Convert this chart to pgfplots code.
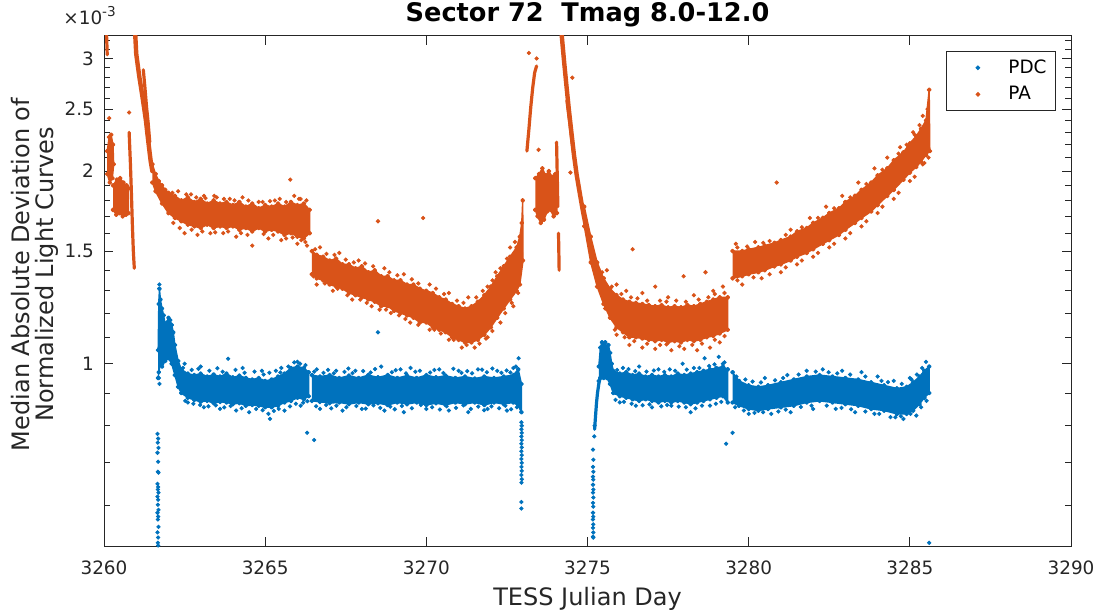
\documentclass[border=0pt]{standalone}
\usepackage{fontspec}
\setmainfont{DejaVu Sans}
\usepackage{pgfplots}
\pgfplotsset{compat=1.18}
\definecolor{pdc}{HTML}{0072BD}
\definecolor{pa}{HTML}{D95319}
\definecolor{axc}{HTML}{262626}
\pgfplotsset{
 band/.style={draw=#1, fill=#1, line width=0.7pt, line join=round, mark=*, mark size=0.85pt, mark options={solid, draw=#1, fill=#1}, forget plot},
 streak/.style={draw=#1, line width=1.6pt, line cap=round, line join=round, forget plot},
 dots/.style={draw=#1, only marks, mark=*, mark size=0.85pt, mark options={solid, draw=#1, fill=#1}, forget plot},
}
\begin{document}
\begin{tikzpicture}
\begin{axis}[
 name=ax, scale only axis, width=483.5pt, height=255pt,
 xmin=3260, xmax=3290, ymin=0.519, ymax=3.253, ymode=log,
 xtick={3260,3265,...,3290},
 ytick={1,1.5,2,2.5,3}, yticklabels={1,1.5,2,2.5,3},
 minor ytick={0.6,0.7,0.8,0.9,1.1,1.2,1.3,1.4,1.6,1.7,1.8,1.9,2.1,2.2,2.3,2.4,2.6,2.7,2.8,2.9,3.1,3.2},
 tick align=inside, major tick length=4.5pt, minor tick length=3pt,
 axis line style={draw=axc, line width=0.5pt},
 every tick/.style={draw=axc, line width=0.5pt},
 tick label style={font=\fontsize{9.2}{11}\selectfont, text=axc},
 xticklabel style={yshift=-4pt},
 yticklabel style={xshift=-1.5pt},
 /pgf/number format/assume math mode=true,
 /pgf/number format/set thousands separator={},
 legend style={at={(1,1)}, anchor=north east, xshift=-7.5pt, yshift=-7.5pt, draw=axc, line width=0.5pt, fill=white, inner xsep=2pt, inner ysep=1.5pt, font=\fontsize{9.2}{11}\selectfont, text=black, cells={anchor=west}, nodes={inner sep=2.5pt}, row sep=0pt},
 legend image code/.code={\path (0pt,-3pt) (26pt,3pt); \draw[#1] plot coordinates {(13.5pt,0pt)};},
]
% ---------------- PDC (blue) ----------------
\addplot[band=pdc] coordinates {
(3261.68,1.05)(3261.70,1.24)(3261.72,1.31)(3261.75,1.26)(3261.80,1.22)(3261.85,1.19)(3261.90,1.15)(3261.95,1.16)(3262.00,1.18)(3262.05,1.17)(3262.10,1.15)(3262.15,1.12)(3262.20,1.07)(3262.30,1.01)(3262.40,0.98)(3262.6,0.965)(3262.8,0.96)(3263.0,0.965)(3263.2,0.955)(3263.4,0.962)(3263.6,0.955)(3263.8,0.965)(3264.0,0.952)(3264.2,0.958)(3264.4,0.95)(3264.6,0.945)(3264.8,0.95)(3265.0,0.94)(3265.2,0.945)(3265.4,0.955)(3265.6,0.965)(3265.8,0.985)(3266.0,0.99)(3266.2,0.985)(3266.35,0.97)
(3266.35,0.89)(3266.2,0.88)(3266.0,0.885)(3265.8,0.875)(3265.6,0.87)(3265.4,0.86)(3265.2,0.855)(3265.0,0.855)(3264.8,0.86)(3264.6,0.862)(3264.4,0.86)(3264.2,0.868)(3264.0,0.865)(3263.8,0.87)(3263.6,0.872)(3263.4,0.868)(3263.2,0.875)(3263.0,0.872)(3262.8,0.878)(3262.6,0.885)(3262.4,0.90)(3262.3,0.92)(3262.2,0.96)(3262.1,1.0)(3262.0,1.02)(3261.9,1.01)(3261.8,0.99)(3261.75,1.0)(3261.70,0.97)(3261.68,0.95)};
\addplot[band=pdc] coordinates {
(3266.45,0.96)(3266.7,0.955)(3267.0,0.96)(3267.3,0.95)(3267.6,0.958)(3267.9,0.95)(3268.2,0.96)(3268.5,0.952)(3268.8,0.96)(3269.1,0.95)(3269.4,0.958)(3269.7,0.95)(3270.0,0.96)(3270.3,0.952)(3270.6,0.958)(3270.9,0.95)(3271.2,0.955)(3271.5,0.948)(3271.8,0.955)(3272.1,0.95)(3272.4,0.955)(3272.7,0.96)(3272.85,0.98)(3272.95,0.93)
(3272.95,0.84)(3272.85,0.86)(3272.7,0.87)(3272.4,0.865)(3272.1,0.87)(3271.8,0.862)(3271.5,0.87)(3271.2,0.865)(3270.9,0.87)(3270.6,0.862)(3270.3,0.868)(3270.0,0.862)(3269.7,0.87)(3269.4,0.865)(3269.1,0.87)(3268.8,0.862)(3268.5,0.868)(3268.2,0.865)(3267.9,0.87)(3267.6,0.865)(3267.3,0.87)(3267.0,0.868)(3266.7,0.872)(3266.45,0.875)};
\addplot[band=pdc] coordinates {
(3275.35,0.99)(3275.40,1.06)(3275.45,1.08)(3275.5,1.07)(3275.55,1.08)(3275.6,1.06)(3275.65,1.07)(3275.7,1.04)(3275.75,1.0)(3275.8,0.975)(3276.0,0.965)(3276.2,0.97)(3276.4,0.96)(3276.6,0.965)(3276.8,0.955)(3277.0,0.96)(3277.2,0.955)(3277.4,0.96)(3277.6,0.955)(3277.8,0.965)(3278.0,0.96)(3278.2,0.965)(3278.4,0.97)(3278.6,0.975)(3278.8,0.98)(3279.0,0.985)(3279.2,0.99)(3279.35,0.98)
(3279.35,0.87)(3279.2,0.89)(3279.0,0.885)(3278.8,0.88)(3278.6,0.875)(3278.4,0.87)(3278.2,0.865)(3278.0,0.87)(3277.8,0.875)(3277.6,0.87)(3277.4,0.875)(3277.2,0.87)(3277.0,0.875)(3276.8,0.88)(3276.6,0.875)(3276.4,0.88)(3276.2,0.885)(3276.0,0.89)(3275.8,0.90)(3275.7,0.93)(3275.6,0.95)(3275.5,0.95)(3275.45,0.96)(3275.4,0.95)(3275.35,0.94)};
\addplot[band=pdc] coordinates {
(3279.5,0.97)(3279.7,0.94)(3280.0,0.925)(3280.3,0.92)(3280.6,0.925)(3281.0,0.935)(3281.4,0.945)(3281.8,0.955)(3282.2,0.96)(3282.6,0.955)(3283.0,0.95)(3283.4,0.945)(3283.8,0.935)(3284.2,0.925)(3284.6,0.915)(3284.9,0.92)(3285.1,0.935)(3285.3,0.955)(3285.45,0.975)(3285.6,0.99)
(3285.6,0.90)(3285.45,0.885)(3285.3,0.865)(3285.1,0.845)(3284.9,0.835)(3284.6,0.835)(3284.2,0.845)(3283.8,0.85)(3283.4,0.86)(3283.0,0.865)(3282.6,0.87)(3282.2,0.875)(3281.8,0.87)(3281.4,0.86)(3281.0,0.855)(3280.6,0.85)(3280.3,0.845)(3280.0,0.85)(3279.7,0.86)(3279.5,0.87)};
\addplot[streak=pdc] coordinates {(3275.22,0.79)(3275.25,0.83)(3275.28,0.87)(3275.31,0.90)(3275.35,0.93)(3275.4,0.955)};
\addplot[dots=pdc] coordinates {
(3261.66,0.777)(3261.68,0.764)(3261.67,0.753)(3261.69,0.739)(3261.66,0.726)(3261.68,0.703)(3261.67,0.678)(3261.69,0.676)(3261.66,0.649)(3261.68,0.642)(3261.67,0.636)(3261.69,0.629)(3261.66,0.620)(3261.68,0.613)(3261.67,0.602)(3261.69,0.591)(3261.66,0.585)(3261.68,0.577)(3261.67,0.571)(3261.69,0.556)(3261.66,0.545)(3261.68,0.535)(3261.67,0.525)(3261.68,0.52)
(3261.70,0.95)(3261.72,0.93)(3261.72,1.33)
(3272.95,0.81)(3272.96,0.80)(3272.95,0.79)(3272.96,0.78)(3272.95,0.77)(3272.96,0.76)(3272.95,0.75)(3272.96,0.74)(3272.95,0.73)(3272.96,0.72)(3272.95,0.71)(3272.96,0.70)(3272.95,0.69)(3272.96,0.68)(3272.95,0.67)(3272.96,0.66)(3272.95,0.652)(3272.95,0.608)(3272.95,0.594)
(3275.17,0.734)(3275.18,0.708)(3275.17,0.690)(3275.18,0.678)(3275.17,0.666)(3275.18,0.659)(3275.17,0.647)(3275.18,0.636)(3275.17,0.629)(3275.18,0.618)(3275.17,0.606)(3275.18,0.598)(3275.17,0.585)(3275.18,0.577)(3275.17,0.571)(3275.18,0.561)(3275.17,0.554)(3275.18,0.545)(3275.17,0.537)(3275.18,0.535)
(3275.21,0.77)(3275.22,0.80)
(3262.5,1.0)(3263.0,0.99)(3263.85,1.018)(3264.3,0.985)(3264.9,0.975)(3265.5,0.985)(3265.9,1.005)(3266.0,1.007)
(3262.6,0.87)(3263.1,0.855)(3263.6,0.85)(3264.1,0.845)(3264.5,0.84)(3265.1,0.835)(3265.15,0.82)(3265.6,0.845)(3266.1,0.86)
(3262.45,0.985)(3262.72,0.978)(3262.93,0.982)(3263.27,0.975)(3263.52,0.984)(3263.68,0.972)(3264.08,0.978)(3264.36,0.968)(3264.67,0.972)(3264.95,0.962)(3265.13,0.968)(3265.33,0.975)(3265.47,0.969)(3265.72,0.99)(3266.08,1.0)(3266.25,0.995)
(3262.52,0.875)(3262.77,0.866)(3262.98,0.862)(3263.24,0.858)(3263.47,0.861)(3263.73,0.855)(3263.93,0.859)(3264.27,0.852)(3264.72,0.85)(3264.92,0.846)(3265.27,0.844)(3265.42,0.85)(3265.77,0.858)(3265.95,0.866)(3266.18,0.869)(3266.31,0.874)
(3266.6,0.98)(3267.2,0.975)(3267.8,0.975)(3268.5,1.12)(3268.6,0.99)(3269.2,0.98)(3269.8,0.975)(3270.4,0.98)(3271.0,0.975)(3271.6,0.98)(3272.2,0.975)(3272.7,0.985)(3272.86,1.02)
(3266.7,0.85)(3267.4,0.845)(3268.0,0.85)(3268.7,0.845)(3269.3,0.84)(3270.0,0.85)(3270.7,0.845)(3271.3,0.84)(3271.9,0.85)(3272.5,0.845)(3266.3,0.78)(3266.52,0.76)
(3266.52,0.972)(3266.81,0.968)(3266.95,0.978)(3267.13,0.966)(3267.46,0.971)(3267.58,0.983)(3267.71,0.967)(3268.04,0.974)(3268.27,0.969)(3268.41,0.981)(3268.93,0.970)(3269.05,0.977)(3269.37,0.966)(3269.51,0.985)(3269.66,0.972)(3270.12,0.969)(3270.25,0.978)(3270.53,0.967)(3270.84,0.982)(3271.09,0.968)(3271.27,0.974)(3271.42,0.966)(3271.73,0.979)(3271.88,0.970)(3272.05,0.983)(3272.33,0.968)(3272.49,0.976)(3272.61,0.969)(3272.78,0.99)
(3266.58,0.858)(3266.89,0.862)(3267.05,0.852)(3267.21,0.860)(3267.52,0.855)(3267.83,0.859)(3268.12,0.851)(3268.36,0.861)(3268.57,0.853)(3268.88,0.857)(3269.02,0.849)(3269.24,0.859)(3269.55,0.852)(3269.83,0.862)(3270.18,0.855)(3270.42,0.848)(3270.63,0.858)(3270.92,0.853)(3271.15,0.861)(3271.38,0.850)(3271.61,0.857)(3271.79,0.846)(3272.02,0.858)(3272.26,0.852)(3272.45,0.86)(3272.63,0.849)(3272.81,0.855)
(3276.1,0.985)(3276.6,0.99)(3277.2,0.98)(3277.95,1.0)(3278.3,0.985)(3278.63,1.02)(3279.07,1.025)(3279.2,1.0)
(3276.0,0.87)(3276.5,0.86)(3277.0,0.855)(3277.6,0.86)(3278.2,0.84)(3278.8,0.86)(3279.3,0.75)(3279.5,0.78)
(3275.92,0.978)(3276.27,0.981)(3276.48,0.974)(3276.83,0.972)(3277.06,0.976)(3277.38,0.971)(3277.55,0.98)(3277.72,0.975)(3278.08,0.979)(3278.47,0.985)(3278.77,0.992)(3278.94,0.998)(3279.25,1.005)
(3275.87,0.878)(3276.13,0.872)(3276.37,0.866)(3276.71,0.861)(3276.92,0.864)(3277.29,0.858)(3277.47,0.862)(3277.83,0.857)(3278.05,0.855)(3278.35,0.852)(3278.55,0.86)(3278.98,0.866)(3279.15,0.872)
(3279.9,0.945)(3280.5,0.95)(3281.2,0.96)(3281.8,0.975)(3282.3,0.98)(3282.9,0.975)(3283.5,0.97)(3284.0,0.955)(3284.5,0.94)(3285.0,0.95)(3285.5,1.007)
(3280.0,0.835)(3280.7,0.835)(3281.3,0.84)(3282.0,0.85)(3282.7,0.85)(3283.3,0.84)(3283.9,0.835)(3284.4,0.825)(3284.8,0.82)(3285.2,0.83)(3285.6,0.525)
(3279.62,0.955)(3280.12,0.938)(3280.38,0.935)(3280.82,0.942)(3281.07,0.95)(3281.55,0.962)(3282.08,0.972)(3282.48,0.97)(3282.75,0.966)(3283.15,0.962)(3283.62,0.955)(3284.12,0.94)(3284.32,0.936)(3284.75,0.93)(3285.05,0.945)(3285.22,0.962)(3285.38,0.985)
(3279.58,0.855)(3279.85,0.845)(3280.18,0.838)(3280.45,0.84)(3280.92,0.842)(3281.15,0.848)(3281.62,0.856)(3281.95,0.86)(3282.42,0.86)(3282.88,0.853)(3283.18,0.849)(3283.62,0.842)(3284.05,0.835)(3284.55,0.825)(3284.72,0.828)(3285.02,0.835)(3285.35,0.855)(3285.52,0.875)};
% ---------------- PA (orange) ----------------
\addplot[band=pa] coordinates {
(3261.50,2.05)(3261.6,1.98)(3261.7,1.93)(3261.8,1.90)(3261.9,1.87)(3262.0,1.85)(3262.2,1.83)(3262.4,1.80)(3262.6,1.82)(3262.8,1.79)(3263.0,1.81)(3263.2,1.78)(3263.4,1.80)(3263.6,1.78)(3263.8,1.79)(3264.0,1.77)(3264.2,1.79)(3264.4,1.76)(3264.6,1.78)(3264.8,1.75)(3265.0,1.77)(3265.2,1.76)(3265.4,1.78)(3265.6,1.76)(3265.8,1.79)(3266.0,1.77)(3266.2,1.78)(3266.38,1.74)
(3266.38,1.60)(3266.2,1.57)(3266.0,1.58)(3265.8,1.60)(3265.6,1.59)(3265.4,1.61)(3265.2,1.62)(3265.0,1.61)(3264.8,1.63)(3264.6,1.61)(3264.4,1.63)(3264.2,1.62)(3264.0,1.64)(3263.8,1.63)(3263.6,1.64)(3263.4,1.63)(3263.2,1.65)(3263.0,1.63)(3262.8,1.64)(3262.6,1.65)(3262.4,1.67)(3262.2,1.69)(3262.0,1.72)(3261.8,1.78)(3261.6,1.86)(3261.5,1.92)};
\addplot[band=pa] coordinates {
(3266.45,1.50)(3266.6,1.48)(3266.8,1.47)(3267.0,1.45)(3267.2,1.46)(3267.4,1.43)(3267.6,1.43)(3267.8,1.41)(3268.0,1.42)(3268.2,1.39)(3268.4,1.40)(3268.6,1.37)(3268.8,1.37)(3269.0,1.35)(3269.2,1.35)(3269.4,1.33)(3269.6,1.33)(3269.8,1.31)(3270.0,1.30)(3270.2,1.29)(3270.4,1.27)(3270.6,1.26)(3270.8,1.24)(3271.0,1.23)(3271.2,1.22)(3271.4,1.23)(3271.6,1.25)(3271.8,1.28)(3272.0,1.32)(3272.2,1.37)(3272.4,1.42)(3272.6,1.47)(3272.8,1.52)(3272.9,1.58)(3272.96,1.66)(3272.99,1.80)
(3273.0,1.45)(3272.9,1.33)(3272.8,1.30)(3272.6,1.26)(3272.4,1.22)(3272.2,1.18)(3272.0,1.14)(3271.8,1.11)(3271.6,1.09)(3271.4,1.08)(3271.2,1.08)(3271.0,1.09)(3270.8,1.10)(3270.6,1.12)(3270.4,1.13)(3270.2,1.14)(3270.0,1.16)(3269.8,1.16)(3269.6,1.18)(3269.4,1.19)(3269.2,1.20)(3269.0,1.21)(3268.8,1.23)(3268.6,1.23)(3268.4,1.25)(3268.2,1.26)(3268.0,1.27)(3267.8,1.28)(3267.6,1.29)(3267.4,1.31)(3267.2,1.32)(3267.0,1.33)(3266.8,1.35)(3266.6,1.36)(3266.45,1.38)};
\addplot[band=pa] coordinates {
(3274.9,1.76)(3275.1,1.58)(3275.3,1.44)(3275.5,1.36)(3275.7,1.31)(3275.9,1.28)(3276.1,1.26)(3276.3,1.25)(3276.5,1.245)(3276.7,1.24)(3276.9,1.235)(3277.1,1.23)(3277.3,1.235)(3277.5,1.225)(3277.7,1.23)(3277.9,1.225)(3278.1,1.235)(3278.3,1.23)(3278.5,1.24)(3278.7,1.25)(3278.9,1.26)(3279.1,1.27)(3279.35,1.27)
(3279.35,1.13)(3279.1,1.115)(3278.9,1.105)(3278.7,1.10)(3278.5,1.09)(3278.3,1.085)(3278.1,1.09)(3277.9,1.08)(3277.7,1.085)(3277.5,1.08)(3277.3,1.09)(3277.1,1.085)(3276.9,1.09)(3276.7,1.095)(3276.5,1.10)(3276.3,1.10)(3276.1,1.12)(3275.9,1.14)(3275.7,1.18)(3275.5,1.24)(3275.3,1.32)(3275.1,1.44)(3274.9,1.64)};
\addplot[band=pa] coordinates {
(3279.5,1.50)(3279.8,1.50)(3280.0,1.51)(3280.3,1.52)(3280.5,1.53)(3280.8,1.545)(3281.0,1.56)(3281.3,1.58)(3281.5,1.61)(3281.8,1.63)(3282.0,1.66)(3282.3,1.69)(3282.5,1.72)(3282.8,1.75)(3283.0,1.79)(3283.3,1.83)(3283.5,1.87)(3283.8,1.92)(3284.0,1.97)(3284.3,2.02)(3284.5,2.08)(3284.8,2.14)(3285.0,2.21)(3285.2,2.27)(3285.35,2.33)(3285.5,2.40)(3285.6,2.68)
(3285.62,2.15)(3285.5,2.12)(3285.35,2.07)(3285.2,2.03)(3285.0,1.99)(3284.8,1.94)(3284.5,1.87)(3284.3,1.83)(3284.0,1.77)(3283.8,1.73)(3283.5,1.69)(3283.3,1.66)(3283.0,1.62)(3282.8,1.59)(3282.5,1.56)(3282.3,1.54)(3282.0,1.51)(3281.8,1.49)(3281.5,1.47)(3281.3,1.45)(3281.0,1.43)(3280.8,1.42)(3280.5,1.40)(3280.3,1.39)(3280.0,1.38)(3279.8,1.37)(3279.5,1.36)};
\addplot[band=pa] coordinates {(3260.1,2.15)(3260.16,2.26)(3260.22,2.28)(3260.28,2.2)(3260.3,2.05)(3260.26,1.95)(3260.18,1.92)(3260.1,1.98)};
\addplot[band=pa] coordinates {(3260.28,1.90)(3260.4,1.94)(3260.5,1.95)(3260.6,1.92)(3260.7,1.90)(3260.76,1.88)(3260.76,1.72)(3260.68,1.71)(3260.58,1.70)(3260.48,1.72)(3260.38,1.71)(3260.28,1.74)};
\addplot[band=pa] coordinates {(3273.38,1.95)(3273.5,1.98)(3273.6,2.02)(3273.7,1.97)(3273.8,2.0)(3273.9,1.96)(3274.0,1.98)(3274.05,1.92)(3274.05,1.72)(3273.95,1.70)(3273.85,1.74)(3273.75,1.73)(3273.65,1.68)(3273.55,1.66)(3273.45,1.70)(3273.38,1.74)};
\addplot[streak=pa] coordinates {(3260.08,3.26)(3260.09,3.15)(3260.1,3.04)};
\addplot[streak=pa] coordinates {(3260.78,2.30)(3260.82,2.05)(3260.85,1.85)(3260.88,1.65)(3260.91,1.50)(3260.94,1.41)};
\addplot[streak=pa, line width=2.2pt] coordinates {(3260.97,3.26)(3261.0,3.05)(3261.05,2.92)(3261.1,2.80)(3261.15,2.70)(3261.2,2.60)(3261.25,2.50)(3261.3,2.40)(3261.35,2.28)(3261.4,2.17)(3261.45,2.07)(3261.5,2.0)};
\addplot[streak=pa] coordinates {(3261.22,2.88)(3261.27,2.70)(3261.32,2.52)(3261.37,2.38)(3261.42,2.22)};
\addplot[streak=pa] coordinates {(3273.12,2.15)(3273.18,2.32)(3273.24,2.52)(3273.3,2.70)(3273.36,2.85)(3273.42,2.92)};
\addplot[streak=pa] coordinates {(3274.04,2.22)(3274.06,1.98)(3274.08,1.76)};
\addplot[streak=pa] coordinates {(3274.10,1.60)(3274.11,1.50)(3274.12,1.40)};
\addplot[streak=pa, line width=2.2pt] coordinates {(3274.20,3.26)(3274.27,2.98)(3274.34,2.74)(3274.42,2.50)(3274.5,2.30)(3274.58,2.12)(3274.66,1.98)(3274.75,1.86)(3274.85,1.74)(3274.95,1.64)};
\addplot[streak=pa] coordinates {(3274.36,2.58)(3274.44,2.40)(3274.52,2.22)(3274.62,2.05)};
\addplot[dots=pa] coordinates {
(3260.16,2.42)(3260.78,2.47)(3273.18,3.06)(3273.42,3.0)(3273.48,2.16)(3274.53,2.80)(3274.47,1.99)
(3262.3,1.86)(3262.7,1.84)(3263.1,1.83)(3263.5,1.82)(3263.9,1.81)(3264.3,1.82)(3264.8,1.79)(3265.3,1.80)(3265.9,1.83)(3266.1,1.81)(3265.78,1.94)
(3262.5,1.60)(3262.9,1.59)(3263.3,1.60)(3263.7,1.60)(3264.1,1.58)(3264.6,1.53)(3265.1,1.57)(3265.5,1.56)(3266.0,1.54)(3266.25,1.55)(3266.3,1.53)
(3262.12,1.85)(3262.55,1.84)(3262.86,1.82)(3263.15,1.815)(3263.42,1.83)(3263.72,1.81)(3264.05,1.80)(3264.48,1.80)(3264.92,1.79)(3265.15,1.795)(3265.45,1.81)(3265.65,1.79)(3266.05,1.81)(3266.28,1.80)
(3262.15,1.66)(3262.35,1.63)(3262.72,1.62)(3263.05,1.61)(3263.45,1.605)(3263.85,1.61)(3264.25,1.60)(3264.45,1.59)(3264.95,1.595)(3265.25,1.59)(3265.65,1.57)(3265.85,1.575)(3266.12,1.56)
(3266.7,1.52)(3267.3,1.49)(3267.9,1.45)(3268.7,1.41)(3269.3,1.38)(3270.1,1.33)(3270.7,1.29)(3271.3,1.27)(3271.9,1.32)(3272.3,1.41)(3272.6,1.52)(3268.5,1.67)(3269.9,1.69)
(3266.6,1.33)(3267.1,1.30)(3267.7,1.26)(3268.3,1.23)(3268.9,1.20)(3269.5,1.16)(3270.1,1.13)(3270.7,1.09)(3271.1,1.06)(3271.5,1.06)(3271.9,1.10)(3272.3,1.16)(3272.7,1.23)
(3266.55,1.51)(3266.9,1.485)(3267.15,1.48)(3267.5,1.455)(3267.75,1.44)(3268.1,1.435)(3268.35,1.42)(3268.85,1.39)(3269.1,1.375)(3269.55,1.355)(3269.75,1.335)(3270.3,1.31)(3270.55,1.285)(3270.95,1.255)(3271.15,1.245)(3271.55,1.27)(3271.75,1.30)(3272.05,1.35)(3272.15,1.39)(3272.5,1.46)(3272.75,1.55)
(3266.5,1.37)(3266.85,1.335)(3267.25,1.31)(3267.55,1.28)(3267.95,1.26)(3268.15,1.245)(3268.55,1.215)(3268.75,1.215)(3269.15,1.19)(3269.35,1.175)(3269.75,1.15)(3270.25,1.13)(3270.45,1.115)(3270.85,1.09)(3271.25,1.07)(3271.65,1.075)(3271.85,1.095)(3272.05,1.125)(3272.45,1.2)(3272.65,1.245)(3272.85,1.29)
(3275.6,1.40)(3275.9,1.33)(3276.2,1.30)(3276.4,1.51)(3276.7,1.29)(3277.1,1.32)(3277.5,1.27)(3277.98,1.37)(3278.3,1.28)(3278.66,1.39)(3278.9,1.30)(3279.2,1.32)
(3275.9,1.11)(3276.3,1.07)(3276.7,1.06)(3277.1,1.055)(3277.6,1.05)(3278.0,1.055)(3278.4,1.05)(3278.8,1.06)(3279.1,1.08)
(3275.45,1.39)(3275.75,1.32)(3276.05,1.285)(3276.35,1.27)(3276.55,1.265)(3276.85,1.255)(3277.25,1.255)(3277.45,1.25)(3277.75,1.255)(3278.05,1.25)(3278.45,1.26)(3278.75,1.27)(3278.95,1.285)(3279.25,1.29)
(3275.55,1.22)(3275.85,1.13)(3276.15,1.10)(3276.45,1.085)(3276.85,1.075)(3277.25,1.07)(3277.45,1.072)(3277.85,1.065)(3278.25,1.07)(3278.55,1.075)(3278.95,1.09)(3279.25,1.105)
(3279.6,1.54)(3280.2,1.55)(3280.87,1.92)(3281.3,1.62)(3281.9,1.69)(3282.4,1.76)(3282.9,1.83)(3283.4,1.92)(3283.9,2.02)(3284.3,2.10)(3284.7,2.18)(3285.1,2.30)(3285.4,2.44)
(3279.8,1.33)(3280.4,1.36)(3281.0,1.39)(3281.5,1.43)(3282.0,1.47)(3282.5,1.52)(3283.0,1.57)(3283.5,1.64)(3284.0,1.72)(3284.5,1.81)(3285.0,1.93)(3285.4,2.05)
(3279.65,1.52)(3279.95,1.525)(3280.45,1.545)(3280.65,1.555)(3281.15,1.59)(3281.65,1.635)(3282.15,1.69)(3282.65,1.75)(3283.15,1.82)(3283.65,1.91)(3284.15,2.01)(3284.65,2.13)(3284.9,2.2)(3285.15,2.28)(3285.3,2.36)(3285.55,2.5)
(3279.65,1.35)(3280.15,1.365)(3280.65,1.38)(3281.15,1.415)(3281.65,1.45)(3282.15,1.49)(3282.65,1.54)(3283.15,1.6)(3283.65,1.67)(3284.15,1.76)(3284.65,1.85)(3285.15,1.96)(3285.45,2.06)(3285.58,2.1)};
\addlegendimage{only marks, mark=*, mark size=0.9pt, color=pdc}
\addlegendentry{PDC}
\addlegendimage{only marks, mark=*, mark size=0.9pt, color=pa}
\addlegendentry{PA}
\coordinate (SW) at (rel axis cs:0,0);
\coordinate (NE) at (rel axis cs:1,1);
\coordinate (TC) at (rel axis cs:0.5,1);
\coordinate (BC) at (rel axis cs:0.5,0);
\coordinate (LC) at (rel axis cs:0,0.5);
\coordinate (TL) at (rel axis cs:0,1);
\end{axis}
\node[anchor=base, font=\bfseries\fontsize{12.8}{15}\selectfont, text=black, inner sep=0pt] at ([yshift=7pt]TC) {Sector 72\ \ Tmag 8.0-12.0};
\node[anchor=base, font=\fontsize{12}{14}\selectfont, text=axc, inner sep=0pt] at ([yshift=-29.5pt]BC) {TESS Julian Day};
\node[anchor=base, rotate=90, font=\fontsize{12}{14}\selectfont, text=axc, inner sep=0pt] at ([xshift=-37pt, yshift=8.25pt]LC) {Median Absolute Deviation of};
\node[anchor=base, rotate=90, font=\fontsize{12}{14}\selectfont, text=axc, inner sep=0pt] at ([xshift=-25.5pt, yshift=8.25pt]LC) {Normalized Light Curves};
\node[anchor=base west, font=\fontsize{9.2}{11}\selectfont, text=axc, inner sep=0pt] at ([xshift=-20.5pt, yshift=5.5pt]TL) {×10\raisebox{0.45em}{\fontsize{6.8}{8}\selectfont -3}};
\pgfresetboundingbox
\path ([xshift=-52pt,yshift=-34.5pt]SW) rectangle ([xshift=14pt,yshift=18pt]NE);
\end{tikzpicture}
\end{document}
